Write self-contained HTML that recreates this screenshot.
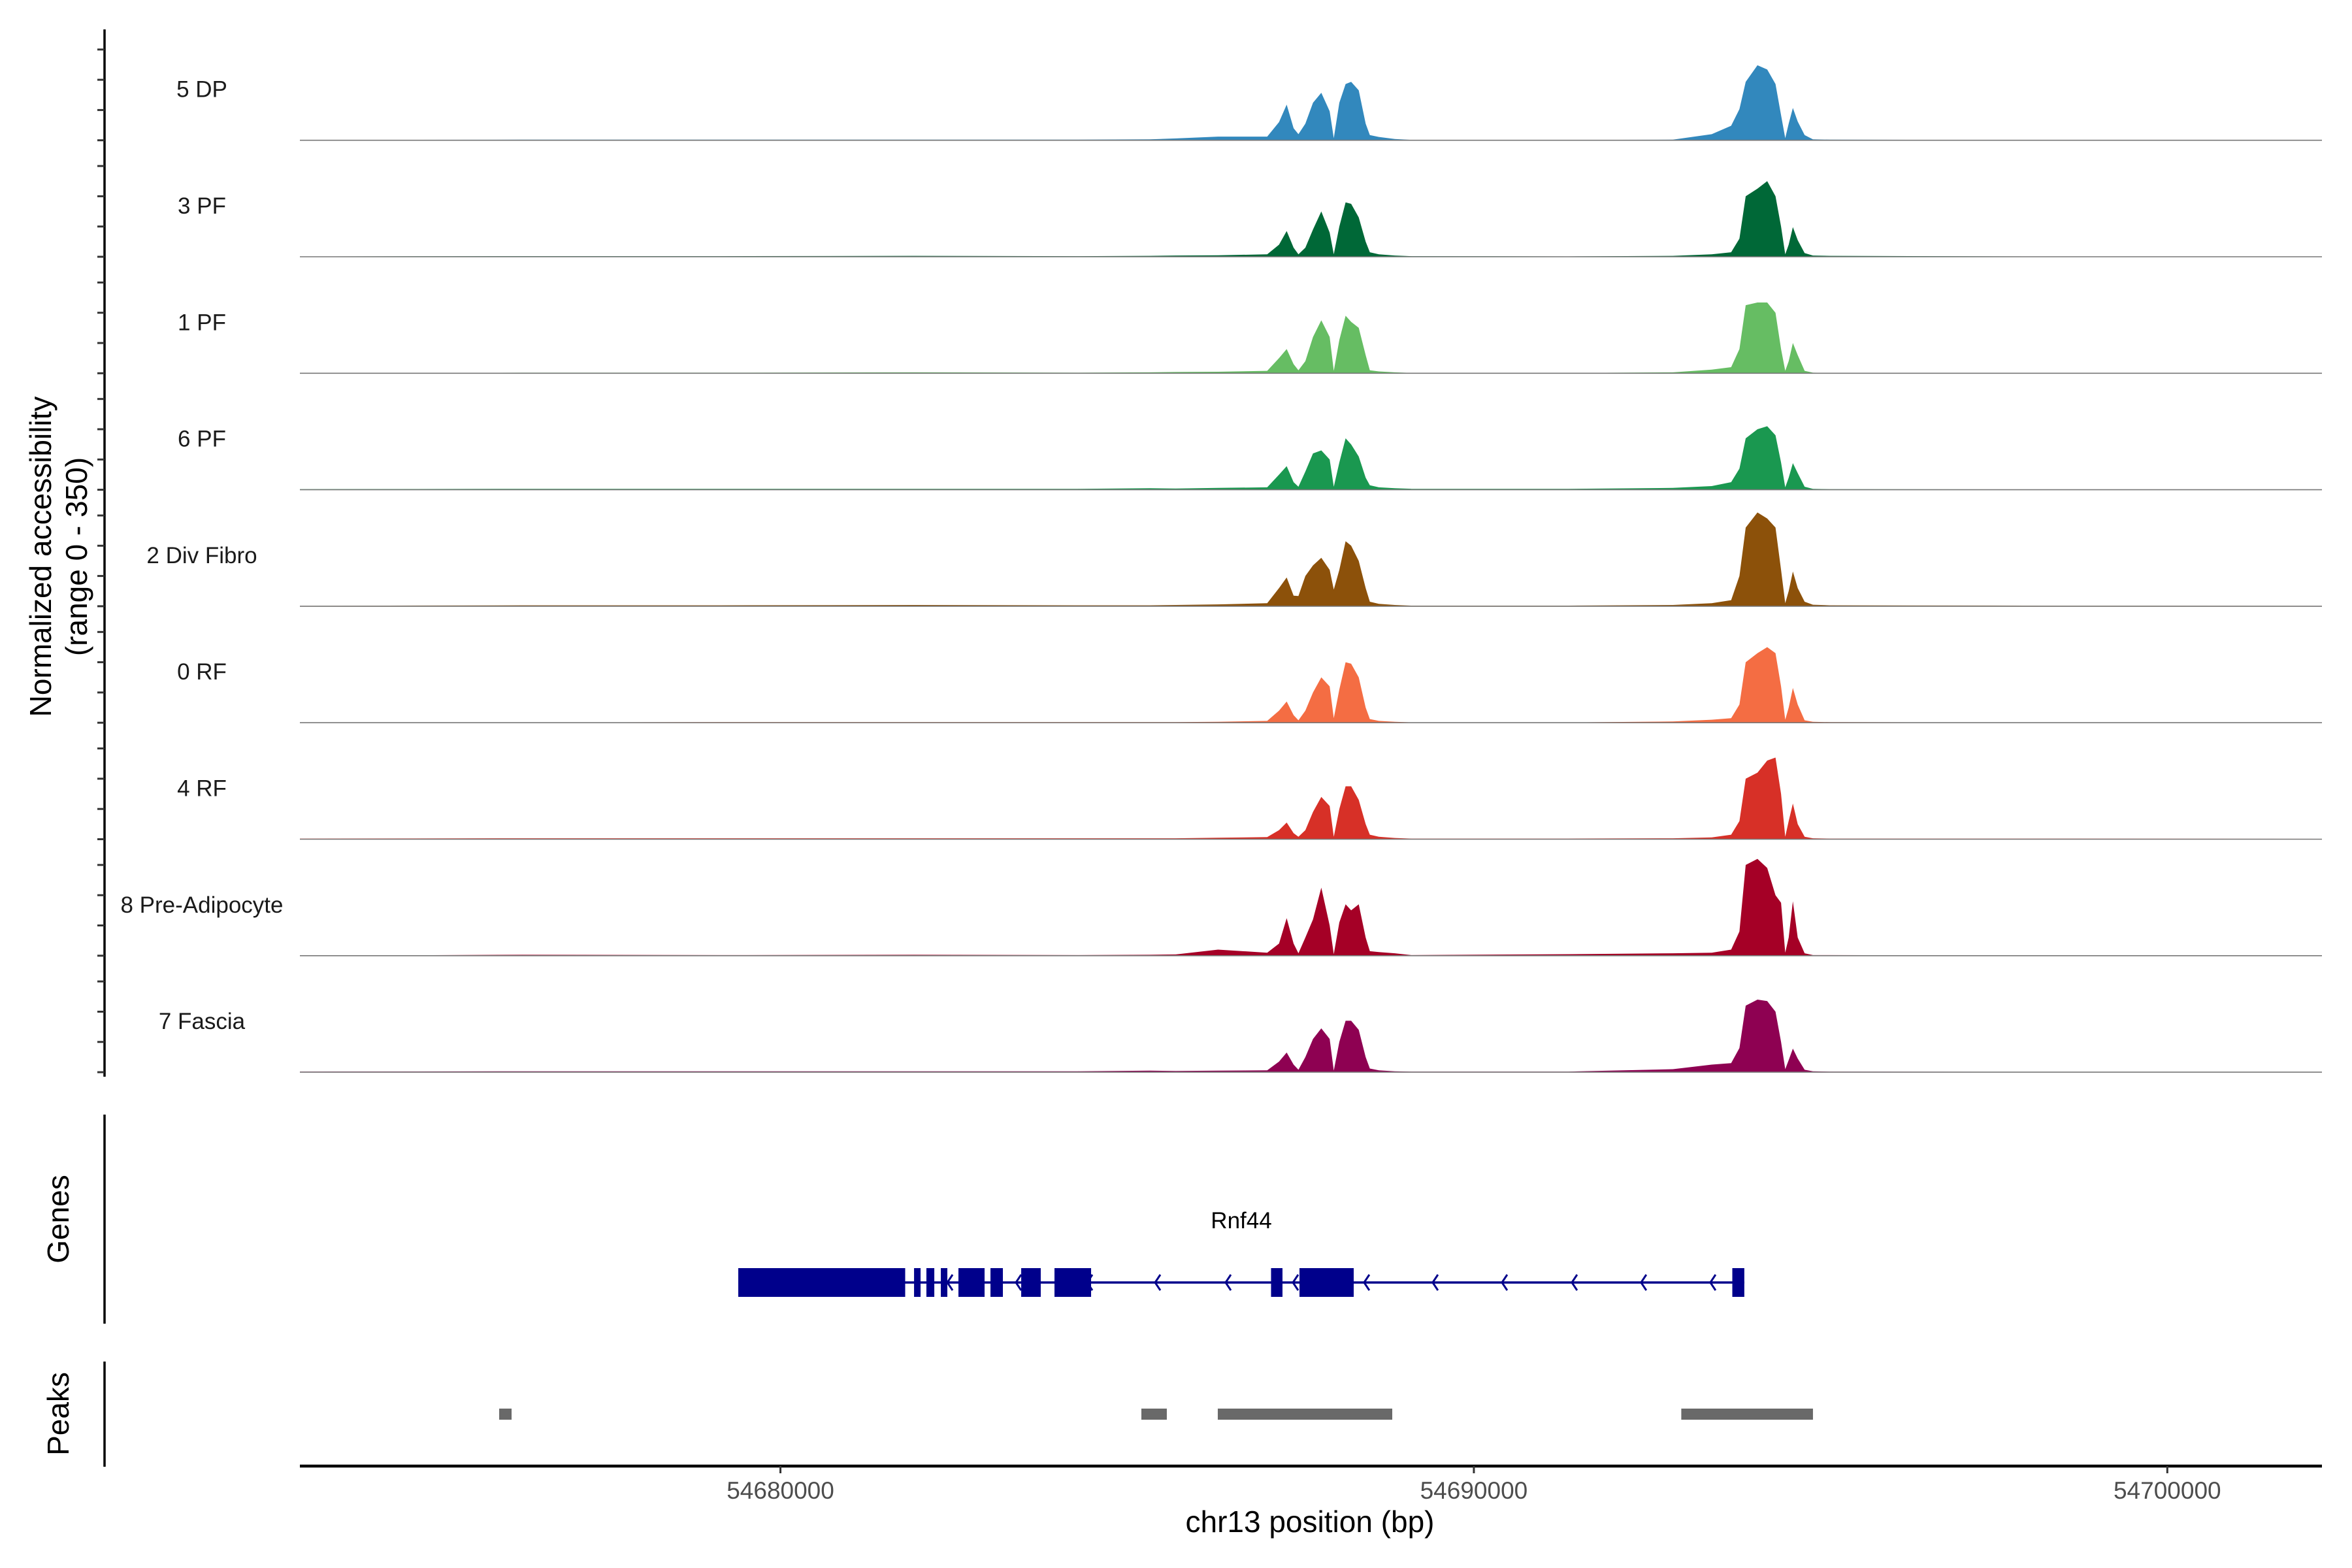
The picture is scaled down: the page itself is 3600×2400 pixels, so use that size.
<!DOCTYPE html>
<html><head><meta charset="utf-8">
<style>
html,body{margin:0;padding:0;background:#fff;}
svg{display:block;font-family:"Liberation Sans",Arial,sans-serif;}
</style></head>
<body>
<svg id="chart" xmlns="http://www.w3.org/2000/svg" width="3600" height="2400" viewBox="0 0 3600 2400">
<rect width="3600" height="2400" fill="#fff"/>
<g id="tracks"></g>
<g id="yaxis"></g>
<text transform="translate(78,852) rotate(-90)" font-size="46" text-anchor="middle">Normalized accessibility</text>
<text transform="translate(133,852) rotate(-90)" font-size="46" text-anchor="middle">(range 0 - 350)</text>
<line x1="160" y1="1706" x2="160" y2="2026" stroke="#000" stroke-width="3.5"/>
<text transform="translate(105,1866) rotate(-90)" font-size="46" text-anchor="middle">Genes</text>
<line x1="160" y1="2084" x2="160" y2="2245" stroke="#000" stroke-width="3.5"/>
<text transform="translate(105,2164) rotate(-90)" font-size="46" text-anchor="middle">Peaks</text>
<g id="genes"></g>
<g id="peaks"></g>
<g id="xaxis"></g>
<text x="2005" y="2345" font-size="46" text-anchor="middle">chr13 position (bp)</text>
</svg>
<script>
const NS = "http://www.w3.org/2000/svg";
// ---- data ----
const trackNames = ["5 DP","3 PF","1 PF","6 PF","2 Div Fibro","0 RF","4 RF","8 Pre-Adipocyte","7 Fascia"];
const trackColors = ["#3288BD","#006837","#66BD63","#1A9850","#8C510A","#F46D43","#D73027","#A50026","#8E0152"];
const positions = [54673070,54676280,54679110,54681940,54684290,54685330,54685700,54686310,54687020,54687190,54687300,54687400,54687470,54687570,54687680,54687800,54687920,54687980,54688060,54688150,54688230,54688340,54688440,54688500,54688630,54688860,54689100,54691360,54692870,54693430,54693710,54693830,54693920,54694090,54694230,54694350,54694430,54694490,54694540,54694600,54694670,54694770,54694890,54695130,54697950,54702230];
const dp5 = [1,2,2,2,2,3,6,12,12,60,118,40,20,55,124,157,96,7,124,186,193,165,55,17,11,4,1,1,2,20,48,103,193,248,234,186,83,7,55,107,62,17,3,2,1,1];
const pf3 = [1,2,2,3,2,3,4,5,8,40,85,30,8,30,90,150,80,8,100,180,175,130,50,15,8,4,2,1,3,8,15,60,200,225,250,200,100,8,40,98,55,12,4,3,1,1];
const pf1 = [1,2,2,3,2,3,4,5,8,50,80,30,10,40,120,175,120,8,110,190,170,150,60,10,6,3,1,1,3,12,20,80,225,234,234,200,80,8,40,100,60,8,2,1,1,1];
const pf6 = [2,3,3,3,3,5,4,6,8,50,78,25,10,60,120,130,100,10,90,170,150,110,40,15,8,5,3,3,6,12,25,70,170,200,210,180,90,8,40,88,55,10,3,2,1,1];
const divFibro2 = [1,3,3,4,3,3,4,6,10,60,95,35,34,100,135,160,120,55,120,215,200,150,60,15,8,4,2,2,4,10,20,100,260,310,290,260,120,10,50,115,60,15,5,3,2,1];
const rf0 = [1,1,2,2,2,2,2,3,6,40,70,25,8,40,100,150,120,15,110,200,195,150,50,12,6,3,1,1,4,10,15,60,200,230,250,230,120,10,50,115,60,8,3,2,1,1];
const rf4 = [2,3,3,3,3,3,3,5,7,30,55,20,8,30,90,140,110,8,100,175,175,130,50,15,8,4,2,2,3,6,15,60,200,220,260,270,150,8,60,118,50,8,3,2,2,1];
const preAdipo8 = [0,3,2,3,2,3,4,20,10,40,124,40,8,60,120,225,100,5,110,170,150,170,60,15,12,8,2,5,8,10,20,80,300,320,290,200,175,10,60,180,60,8,2,2,1,0];
const fascia7 = [2,3,3,3,3,5,4,5,6,35,65,25,8,50,110,145,110,5,100,170,170,140,50,12,6,3,2,2,10,25,30,80,220,240,235,200,100,10,40,78,45,8,3,2,1,1];
const trackValues = [dp5,pf3,pf1,pf6,divFibro2,rf0,rf4,preAdipo8,fascia7];
const yTicks = [0,100,200,300];
const xTicks = [54680000,54690000,54700000];
const xTickLabels = ["54680000","54690000","54700000"];
const exonStarts = [54679392,54681927,54682105,54682313,54682567,54683029,54683472,54683952,54687075,54687485,54693727];
const exonEnds   = [54681799,54682021,54682219,54682407,54682944,54683208,54683754,54684480,54687240,54688267,54693900];
const geneStart = 54679392, geneEnd = 54693900, geneName = "Rnf44";
const arrowPos = [54682426,54683415,54684442,54685422,54686439,54687410,54688436,54689425,54690424,54691432,54692430,54693429];
const peakStarts = [54675944,54685205,54686307,54692991];
const peakEnds   = [54676123,54685572,54688823,54694890];
// ---- scales ----
const X0 = 459, X1 = 3554, G0 = 54673070, G1 = 54702230;
function xs(g){ return X0 + (g - G0) * (X1 - X0) / (G1 - G0); }
function base(i){ return 214.7 + 178.3 * i; }
const PXU = 0.463;
function ys(i, v){ return base(i) - v * PXU; }
function mk(tag, attrs, parent){ const e = document.createElementNS(NS, tag); for (const k in attrs) e.setAttribute(k, attrs[k]); parent.appendChild(e); return e; }

const tg = document.getElementById('tracks');
trackValues.forEach((vals, i) => {
  let d = "M" + xs(positions[0]) + "," + base(i);
  vals.forEach((v, j) => { d += " L" + xs(positions[j]).toFixed(1) + "," + ys(i, v).toFixed(1); });
  d += " L" + xs(positions[positions.length-1]) + "," + base(i) + " Z";
  const p = mk('path', {d: d, fill: trackColors[i]}, tg);
  
  
  const bl = mk('line', {x1: X0, x2: X1, y1: base(i), y2: base(i), stroke: '#777', 'stroke-width': 1.6}, tg);
  
  
  const t = mk('text', {x: 309, y: base(i) - 66, 'font-size': 35, 'text-anchor': 'middle', fill: '#1a1a1a'}, tg);
  t.textContent = trackNames[i];
  
  
});

const ya = document.getElementById('yaxis');
const yl = mk('line', {x1: 160, x2: 160, y1: 45, y2: 1648, stroke: '#000', 'stroke-width': 3.5}, ya);


trackValues.forEach((v, i) => {
  yTicks.forEach(t => {
    const tk = mk('line', {x1: 149, x2: 160, y1: ys(i, t), y2: ys(i, t), stroke: '#333', 'stroke-width': 3}, ya);
    
    
  });
});

const gg = document.getElementById('genes');
const gy = 1963;
const gl = mk('line', {x1: xs(geneStart), x2: xs(geneEnd), y1: gy, y2: gy, stroke: '#00008B', 'stroke-width': 3.5}, gg);


arrowPos.forEach(a => {
  const x = xs(a);
  const ar = mk('polyline', {points: (x+6)+","+(gy-12)+" "+(x-2)+","+gy+" "+(x+6)+","+(gy+12), fill: 'none', stroke: '#00008B', 'stroke-width': 3}, gg);
  
  
});
exonStarts.forEach((s, k) => {
  const r = mk('rect', {x: xs(s), y: 1941, width: xs(exonEnds[k]) - xs(s), height: 44, fill: '#00008B'}, gg);
  
  
});
const gn = mk('text', {x: 1900, y: 1880, 'font-size': 35, 'text-anchor': 'middle', fill: '#000'}, gg);
gn.textContent = geneName;



const pg = document.getElementById('peaks');
peakStarts.forEach((s, k) => {
  const r = mk('rect', {x: xs(s), y: 2156, width: xs(peakEnds[k]) - xs(s), height: 17, fill: '#696969'}, pg);
  
  
});

const xa = document.getElementById('xaxis');
const xl = mk('line', {x1: X0, x2: X1, y1: 2244, y2: 2244, stroke: '#000', 'stroke-width': 4.5}, xa);


xTicks.forEach((t, k) => {
  const tk = mk('line', {x1: xs(t), x2: xs(t), y1: 2244, y2: 2255, stroke: '#333', 'stroke-width': 3}, xa);
  
  
  const lb = mk('text', {x: xs(t), y: 2294, 'font-size': 37, 'text-anchor': 'middle', fill: '#4d4d4d'}, xa);
  lb.textContent = xTickLabels[k];
  
  
});
</script>
</body></html>
